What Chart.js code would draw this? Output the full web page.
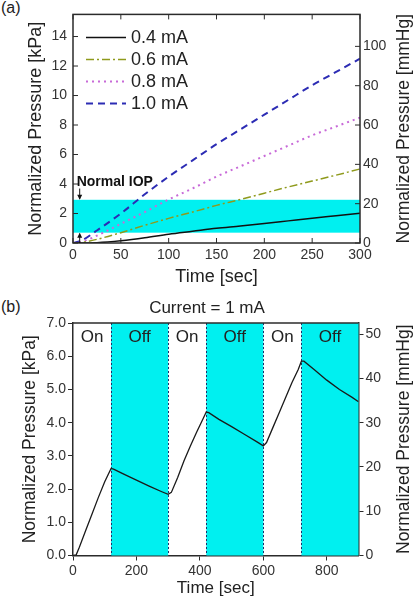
<!DOCTYPE html>
<html>
<head>
<meta charset="utf-8">
<script src="https://cdn.jsdelivr.net/npm/chart.js@4.4.1/dist/chart.umd.min.js"></script>
<style>
  html, body { margin: 0; padding: 0; background: #fff; }
  #wrap { position: relative; width: 414px; height: 599px; overflow: hidden; font-family: "Liberation Sans", Arial, sans-serif; }
  canvas { position: absolute; left: 0; }
  #cA { top: 0; }
  #cB { top: 290px; }
  .tag { position: absolute; left: 1px; font-size: 16px; line-height: 16px; color: #222; }
</style>
</head>
<body>
<div id="wrap">
  <div class="tag" style="top:0px">(a)</div>
  <div class="tag" style="top:299px">(b)</div>
  <canvas id="cA" width="414" height="290"></canvas>
  <canvas id="cB" width="414" height="309"></canvas>
</div>
<script>
// ---- data, panel (a) ----
const timeA = [0, 10, 25, 50, 75, 100, 125, 150, 175, 200, 225, 250, 275, 300];
const curr04 = [0, 0, 0.02, 0.15, 0.35, 0.6, 0.8, 1.0, 1.15, 1.32, 1.5, 1.68, 1.85, 2.02];
const curr06 = [0, 0.05, 0.25, 0.7, 1.2, 1.67, 2.1, 2.55, 2.95, 3.38, 3.8, 4.2, 4.6, 5.02];
const curr08 = [0, 0.1, 0.5, 1.3, 2.1, 2.95, 3.7, 4.5, 5.2, 5.9, 6.6, 7.3, 7.9, 8.5];
const curr10 = [0, 0.2, 0.85, 2.0, 3.3, 4.5, 5.6, 6.7, 7.7, 8.7, 9.7, 10.7, 11.6, 12.5];
const seriesLabels = ['0.4 mA', '0.6 mA', '0.8 mA', '1.0 mA'];
const iopBand = [0.7, 2.93];      // kPa
const iopMarkT = 7;               // sec
const iopLabelY = 4.1;            // kPa

// ---- data, panel (b) ----
const timeB = [0, 10, 20, 40, 60, 80, 100, 120, 128, 160, 200, 240, 280, 300, 310, 330, 350, 370, 390, 410,
  420, 428, 460, 500, 540, 580, 600, 610, 630, 650, 670, 690, 710, 720, 728, 760, 800, 840, 880, 900];
const presB = [0, 0.02, 0.25, 0.75, 1.25, 1.75, 2.22, 2.62, 2.6, 2.45, 2.27, 2.09, 1.92, 1.84, 1.9, 2.35, 2.85, 3.3, 3.72, 4.12,
  4.32, 4.3, 4.1, 3.88, 3.65, 3.42, 3.3, 3.4, 3.85, 4.3, 4.75, 5.2, 5.6, 5.85, 5.85, 5.6, 5.28, 5.0, 4.76, 4.63];
const onStart = [0, 300, 600];
const onEnd = [120, 420, 720];
const offStart = [120, 420, 720];
const offEnd = [300, 600, 900];

const KPA_TO_MMHG = 7.50062;
const CYAN = '#00f0f0';
const AXIS = '#2b2b2b';
const TXT = '#222';
const FONT = '"Liberation Sans", Arial, sans-serif';

Chart.defaults.font.family = FONT;
Chart.defaults.color = TXT;

const pts = (xs, ys) => xs.map((x, i) => ({ x: x, y: ys[i] }));

function rightTitle(chart, text, size) {
  const { ctx, chartArea: a } = chart;
  ctx.save();
  ctx.translate(404, (a.top + a.bottom) / 2);
  ctx.rotate(-Math.PI / 2);
  ctx.fillStyle = TXT;
  ctx.font = size + 'px ' + FONT;
  ctx.textAlign = 'center';
  ctx.textBaseline = 'middle';
  ctx.fillText(text, 0, 0);
  ctx.restore();
}

// ---------- panel (a) ----------
const panelA = {
  id: 'panelA',
  beforeDatasetsDraw(chart) {
    const { ctx, chartArea: a, scales: { y } } = chart;
    const t = y.getPixelForValue(iopBand[1]);
    const b = y.getPixelForValue(iopBand[0]);
    ctx.save();
    ctx.fillStyle = CYAN;
    ctx.fillRect(a.left, t, a.right - a.left, b - t);
    ctx.restore();
  },
  afterDraw(chart) {
    const { ctx, chartArea: a, scales: { x, y, y2 } } = chart;
    ctx.save();
    // frame
    ctx.strokeStyle = AXIS;
    ctx.lineWidth = 1.5;
    ctx.strokeRect(a.left, a.top, a.right - a.left, a.bottom - a.top);
    // inward ticks
    const L = 5;
    ctx.lineWidth = 1;
    ctx.beginPath();
    x.ticks.forEach(tk => {
      const p = x.getPixelForValue(tk.value);
      ctx.moveTo(p, a.bottom); ctx.lineTo(p, a.bottom - L);
      ctx.moveTo(p, a.top); ctx.lineTo(p, a.top + L);
    });
    y.ticks.forEach(tk => {
      const p = y.getPixelForValue(tk.value);
      ctx.moveTo(a.left, p); ctx.lineTo(a.left + L, p);
    });
    y2.ticks.forEach(tk => {
      const p = y2.getPixelForValue(tk.value);
      ctx.moveTo(a.right, p); ctx.lineTo(a.right - L, p);
    });
    ctx.stroke();

    // legend
    chart.data.datasets.forEach((ds, i) => {
      const yy = a.top + 23 + i * 22;
      ctx.strokeStyle = ds.borderColor;
      ctx.lineWidth = ds.borderWidth;
      ctx.setLineDash(ds.borderDash || []);
      ctx.beginPath();
      ctx.moveTo(a.left + 13, yy); ctx.lineTo(a.left + 53, yy);
      ctx.stroke();
      ctx.setLineDash([]);
      ctx.fillStyle = TXT;
      ctx.font = '18px ' + FONT;
      ctx.textAlign = 'left';
      ctx.textBaseline = 'middle';
      ctx.fillText(ds.label, a.left + 58, yy + 1);
    });

    // Normal IOP annotation
    const ax = x.getPixelForValue(iopMarkT);
    const bandTop = y.getPixelForValue(iopBand[1]);
    const bandBot = y.getPixelForValue(iopBand[0]);
    const labY = y.getPixelForValue(iopLabelY);
    ctx.fillStyle = '#111';
    ctx.font = 'bold 14px ' + FONT;
    ctx.textAlign = 'left';
    ctx.textBaseline = 'middle';
    ctx.fillText('Normal IOP', ax - 3, labY);
    ctx.strokeStyle = '#111';
    ctx.lineWidth = 1;
    ctx.beginPath();
    ctx.moveTo(ax, labY + 6); ctx.lineTo(ax, bandTop - 1);
    ctx.moveTo(ax, a.bottom); ctx.lineTo(ax, bandBot + 1);
    ctx.stroke();
    ctx.beginPath();
    ctx.moveTo(ax, bandTop); ctx.lineTo(ax - 2.5, bandTop - 5); ctx.lineTo(ax + 2.5, bandTop - 5); ctx.closePath();
    ctx.moveTo(ax, bandBot); ctx.lineTo(ax - 2.5, bandBot + 5); ctx.lineTo(ax + 2.5, bandBot + 5); ctx.closePath();
    ctx.fill();
    ctx.restore();

    rightTitle(chart, 'Normalized Pressure [mmHg]', 17.5);
  }
};

const gridA = { display: false, drawTicks: false };

new Chart(document.getElementById('cA'), {
  type: 'line',
  data: {
    datasets: [
      { label: seriesLabels[0], data: pts(timeA, curr04), borderColor: '#111111', borderWidth: 1.5, borderDash: [] },
      { label: seriesLabels[1], data: pts(timeA, curr06), borderColor: '#8f9a1c', borderWidth: 1.5, borderDash: [8, 3, 2, 3] },
      { label: seriesLabels[2], data: pts(timeA, curr08), borderColor: '#c86ad8', borderWidth: 2, borderDash: [2, 4] },
      { label: seriesLabels[3], data: pts(timeA, curr10), borderColor: '#2c2cb4', borderWidth: 2, borderDash: [7, 5] }
    ]
  },
  options: {
    responsive: false,
    animation: false,
    devicePixelRatio: 1,
    layout: { padding: { top: 10, left: 0, right: 0, bottom: 0 } },
    elements: { point: { radius: 0 }, line: { cubicInterpolationMode: 'monotone', fill: false } },
    plugins: { legend: { display: false }, tooltip: { enabled: false } },
    scales: {
      x: {
        type: 'linear', min: 0, max: 300,
        ticks: { stepSize: 50, font: { size: 14 }, color: '#333', padding: 4, maxRotation: 0 },
        grid: gridA,
        border: { display: false },
        title: { display: true, text: 'Time [sec]', font: { size: 18 }, color: TXT, padding: { top: 0, bottom: 2 } },
        afterFit(s) { s.height = 47; }
      },
      y: {
        position: 'left', min: 0, max: 15.5,
        ticks: { stepSize: 2, includeBounds: false, font: { size: 14 }, color: '#333', padding: 6 },
        grid: gridA,
        border: { display: false },
        title: { display: true, text: 'Normalized Pressure [kPa]', font: { size: 18 }, color: TXT, padding: { top: 25, bottom: 0 } },
        afterFit(s) { s.width = 73; }
      },
      y2: {
        position: 'right', min: 0, max: 15.5 * KPA_TO_MMHG,
        ticks: { stepSize: 20, includeBounds: false, font: { size: 14 }, color: '#333', padding: 3 },
        grid: gridA,
        border: { display: false },
        afterFit(s) { s.width = 54; }
      }
    }
  },
  plugins: [panelA]
});

// ---------- panel (b) ----------
const panelB = {
  id: 'panelB',
  beforeDatasetsDraw(chart) {
    const { ctx, chartArea: a, scales: { x } } = chart;
    ctx.save();
    ctx.fillStyle = CYAN;
    offStart.forEach((s, i) => {
      const l = x.getPixelForValue(s), r = x.getPixelForValue(offEnd[i]);
      ctx.fillRect(l, a.top, r - l, a.bottom - a.top);
    });
    // dotted boundaries
    ctx.strokeStyle = '#1d2f6a';
    ctx.lineWidth = 1;
    ctx.setLineDash([2, 2]);
    ctx.beginPath();
    offStart.concat(offEnd).forEach(v => {
      if (v <= x.min || v >= x.max) return;
      const p = Math.round(x.getPixelForValue(v)) + 0.5;
      ctx.moveTo(p, a.top); ctx.lineTo(p, a.bottom);
    });
    ctx.stroke();
    ctx.setLineDash([]);
    // On / Off labels
    ctx.fillStyle = TXT;
    ctx.font = '17px ' + FONT;
    ctx.textAlign = 'center';
    ctx.textBaseline = 'middle';
    onStart.forEach((s, i) => ctx.fillText('On', x.getPixelForValue((s + onEnd[i]) / 2), a.top + 14));
    offStart.forEach((s, i) => ctx.fillText('Off', x.getPixelForValue((s + offEnd[i]) / 2), a.top + 14));
    ctx.restore();
  },
  afterDraw(chart) {
    const { ctx, chartArea: a } = chart;
    ctx.save();
    ctx.strokeStyle = AXIS;
    ctx.lineWidth = 1.5;
    ctx.beginPath();
    ctx.moveTo(a.left, a.top); ctx.lineTo(a.right, a.top);
    ctx.stroke();
    ctx.restore();
    rightTitle(chart, 'Normalized Pressure [mmHg]', 17.5);
  }
};

const axisB = {
  grid: { display: true, drawOnChartArea: false, drawTicks: true, tickLength: 5, color: AXIS, lineWidth: 1 },
  border: { display: true, color: AXIS, width: 1.5 }
};

new Chart(document.getElementById('cB'), {
  type: 'line',
  data: {
    datasets: [
      { label: '1 mA', data: pts(timeB, presB), borderColor: '#1a1a1a', borderWidth: 1.3, tension: 0 }
    ]
  },
  options: {
    responsive: false,
    animation: false,
    devicePixelRatio: 1,
    layout: { padding: 0 },
    elements: { point: { radius: 0 } },
    plugins: {
      legend: { display: false },
      tooltip: { enabled: false },
      title: { display: true, text: 'Current = 1 mA', font: { size: 17, weight: 'normal' }, color: TXT, padding: { top: 8, bottom: 4.6 } }
    },
    scales: {
      x: Object.assign({
        type: 'linear', min: 0, max: 900,
        ticks: { stepSize: 200, includeBounds: false, font: { size: 14 }, color: '#333', padding: 2, maxRotation: 0 },
        title: { display: true, text: 'Time [sec]', font: { size: 17 }, color: TXT, padding: { top: 0, bottom: 0 } },
        afterFit(s) { s.height = 43.5; }
      }, axisB),
      y: Object.assign({
        position: 'left', min: 0, max: 7,
        ticks: { stepSize: 1, font: { size: 14 }, color: '#333', padding: 2, callback: v => v.toFixed(1) },
        title: { display: true, text: 'Normalized Pressure [kPa]', font: { size: 17.5 }, color: TXT, padding: { top: 20, bottom: 0 } },
        afterFit(s) { s.width = 73; }
      }, axisB),
      y2: Object.assign({
        position: 'right', min: 0, max: 7 * KPA_TO_MMHG,
        ticks: { stepSize: 10, includeBounds: false, font: { size: 14 }, color: '#333', padding: 2 },
        afterFit(s) { s.width = 55.5; }
      }, axisB)
    }
  },
  plugins: [panelB]
});
</script>
</body>
</html>
